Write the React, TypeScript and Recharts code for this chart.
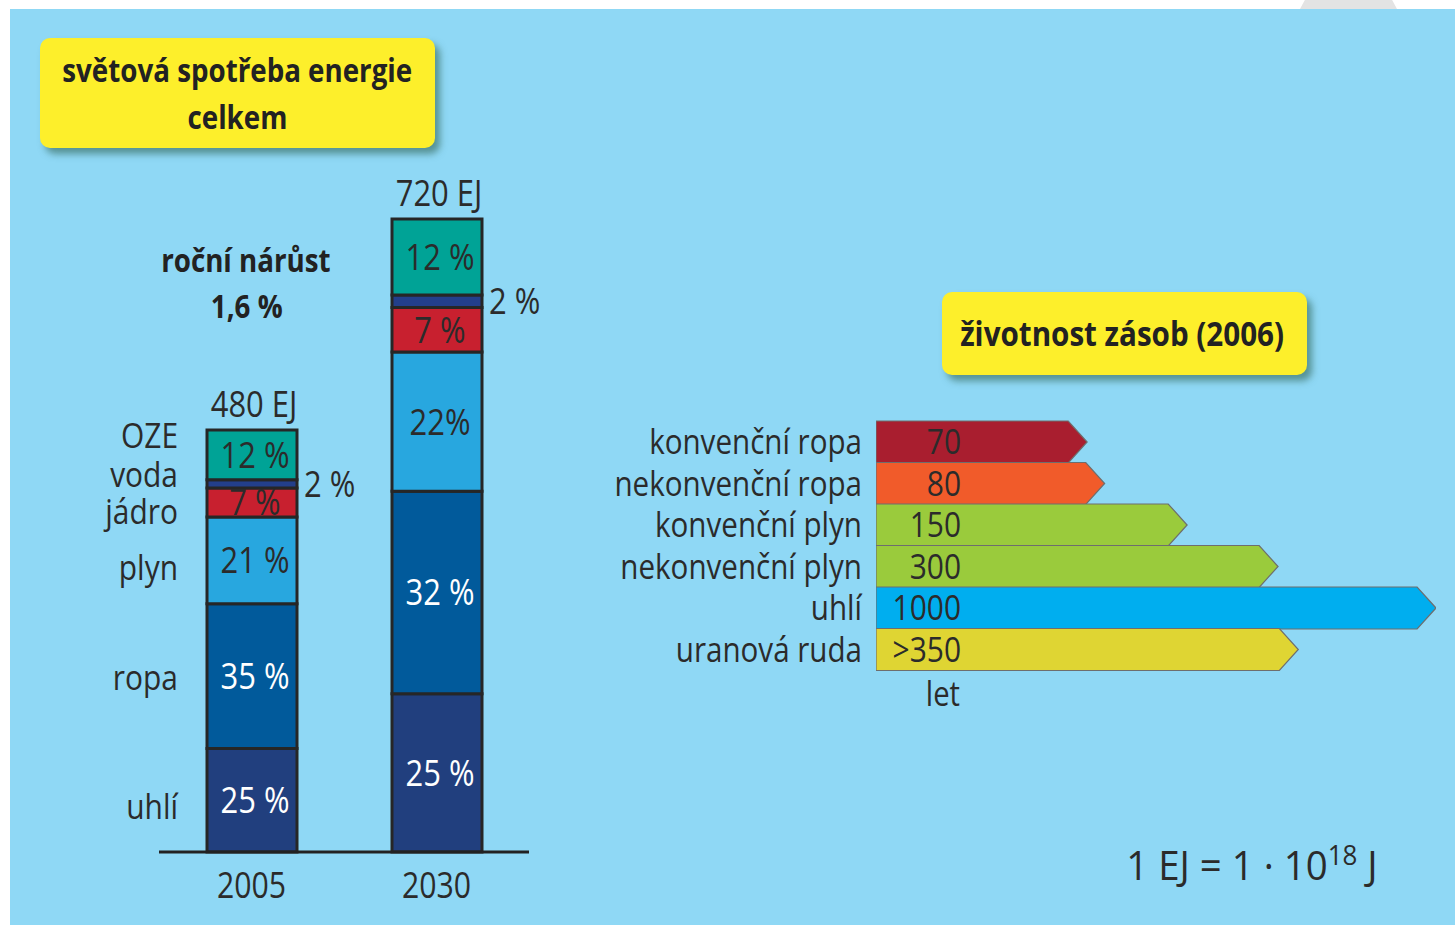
import { BarChart, Bar, XAxis, YAxis, LabelList, Cell } from "recharts";

// světová spotřeba energie (EJ, podíly v %)
const years = ["2005", "2030"];
const totalEJ = [480, 720];
const uhli = [25, 25];
const ropa = [35, 32];
const plyn = [21, 22];
const jadro = [7, 7];
const voda = [2, 2];
const oze = [12, 12];
const plynText = ["21 %", "22%"];

// životnost zásob (2006), roky
const reserveNames = [
  "konvenční ropa",
  "nekonvenční ropa",
  "konvenční plyn",
  "nekonvenční plyn",
  "uhlí",
  "uranová ruda",
];
const reserveYears = [70, 80, 150, 300, 1000, 350];
const reserveText = ["70", "80", "150", "300", "1000", ">350"];

const FONT = "'Open Sans', 'Noto Sans', sans-serif";
const SX = 0.86; // condensed look
const INK = "#2b2b2b";
const BG = "#8fd8f5";

const SERIES = [
  { key: "uhli", name: "uhlí", fill: "#213f7e", ink: "#ffffff", nameDy: 6 },
  { key: "ropa", name: "ropa", fill: "#015a9b", ink: "#ffffff", nameDy: 2 },
  { key: "plyn", name: "plyn", fill: "#28a7df", ink: INK, nameDy: 7 },
  { key: "jadro", name: "jádro", fill: "#c8202f", ink: INK, nameDy: 9 },
  { key: "voda", name: "voda", fill: "#233f8b", ink: INK, nameDy: -9 },
  { key: "oze", name: "OZE", fill: "#00a396", ink: INK, nameDy: -19 },
];

const shares: Record<string, number[]> = { uhli, ropa, plyn, jadro, voda, oze };

const energyRows = years.map((year, i) => {
  const sum = SERIES.reduce((s, k) => s + shares[k.key][i], 0);
  const row: any = { year, totalText: `${totalEJ[i]} EJ` };
  SERIES.forEach((s) => {
    row[s.key] = (totalEJ[i] * shares[s.key][i]) / sum;
    row[s.key + "Text"] = `${shares[s.key][i]} %`;
  });
  row.plynText = plynText[i];
  return row;
});

const reserveRows = reserveNames.map((name, i) => ({
  name,
  years: reserveYears[i],
  text: reserveText[i],
}));

const ARROW_FILLS = ["#a91e2f", "#f15b2a", "#9acb3c", "#9acb3c", "#00aeef", "#dfd533"];

// narrow svg text: scaled horizontally around its anchor point
function NText(props: any) {
  const { x, y, anchor = "middle", size = 34, fill = INK, weight = 400, sx = SX, children } = props;
  return (
    <g transform={`translate(${x},${y}) scale(${sx},1)`}>
      <text x={0} y={0} dy="0.36em" textAnchor={anchor} fontSize={size} fill={fill} fontWeight={weight} fontFamily={FONT}>
        {children}
      </text>
    </g>
  );
}

// narrow html line centred on (cx, cy)
function HLine(props: any) {
  const { cx, cy, size = 34, weight = 400, sx = SX, lh = 46, color = INK, children } = props;
  return (
    <div
      style={{
        position: "absolute",
        left: cx - 500,
        top: cy - lh / 2,
        width: 1000,
        height: lh,
        lineHeight: `${lh}px`,
        textAlign: "center",
        fontSize: size,
        fontWeight: weight,
        color,
        whiteSpace: "nowrap",
      }}
    >
      <span style={{ display: "inline-block", transform: `scaleX(${sx})` }}>{children}</span>
    </div>
  );
}

const box = (p: any) => {
  const vb = p.viewBox ?? p;
  return { x: vb.x, y: Math.min(vb.y, vb.y + vb.height), w: vb.width, h: Math.abs(vb.height) };
};

const insideLabel = (color: string) => (p: any) => {
  const b = box(p);
  return (
    <NText x={b.x + b.w / 2 + 3} y={b.y + b.h / 2} fill={color} size={36}>
      {p.value}
    </NText>
  );
};

const nameLabel = (name: string, dy: number) => (p: any) => {
  if (p.index !== 0) return null;
  const b = box(p);
  return (
    <NText x={b.x - 29} y={b.y + b.h / 2 + dy} anchor="end" size={34} sx={0.88}>
      {name}
    </NText>
  );
};

const sideLabel = (p: any) => {
  const b = box(p);
  return (
    <NText x={b.x + b.w + 7} y={b.y + b.h / 2} anchor="start" size={36}>
      {p.value}
    </NText>
  );
};

const totalLabel = (p: any) => {
  const b = box(p);
  return (
    <NText x={b.x + b.w / 2 + 2} y={b.y - 26} size={36}>
      {p.value}
    </NText>
  );
};

const yearTick = (p: any) => (
  <NText x={p.x} y={p.y + 13} size={36} sx={0.84}>
    {p.payload.value}
  </NText>
);

function EnergyBars() {
  return (
    <BarChart width={600} height={927} data={energyRows} margin={{ top: 219, right: 71, bottom: 25, left: 159 }}>
      <XAxis
        dataKey="year"
        height={50}
        axisLine={{ stroke: "#222", strokeWidth: 3 }}
        tickLine={false}
        tickMargin={14}
        tick={yearTick}
      />
      <YAxis hide domain={[0, 720]} />
      {SERIES.map((s) => (
        <Bar key={s.key} dataKey={s.key} stackId="a" barSize={90} fill={s.fill} stroke="#262626" strokeWidth={3} isAnimationActive={false}>
          {s.key === "voda" ? (
            <LabelList dataKey="vodaText" content={sideLabel} />
          ) : (
            <LabelList dataKey={s.key + "Text"} content={insideLabel(s.ink)} />
          )}
          <LabelList dataKey={s.key} content={nameLabel(s.name, s.nameDy)} />
          {s.key === "oze" && <LabelList dataKey="totalText" content={totalLabel} />}
        </Bar>
      ))}
    </BarChart>
  );
}

const arrowShape = (p: any) => {
  const { x, y, width, height, fill } = p;
  const t = Math.min(height * 0.45, width);
  const d = `M${x},${y} H${x + width - t} L${x + width},${y + height / 2} L${x + width - t},${y + height} H${x} Z`;
  return <path d={d} fill={fill} stroke="#6e6e6e" strokeWidth={1.2} />;
};

const valueLabel = (p: any) => {
  const b = box(p);
  return (
    <NText x={b.x + 85} y={b.y + b.h / 2} anchor="end" size={34} sx={0.88}>
      {p.value}
    </NText>
  );
};

const reserveTick = (p: any) => (
  <NText x={p.x + 2} y={p.y} anchor="end" size={34} sx={0.87}>
    {p.payload.value}
  </NText>
);

function ReserveArrows() {
  return (
    <BarChart
      width={855}
      height={927}
      data={reserveRows}
      layout="vertical"
      margin={{ top: 421, right: 19, bottom: 257, left: 0 }}
      barCategoryGap={0}
    >
      <XAxis type="number" scale="log" domain={[14, 1000]} allowDataOverflow hide />
      <YAxis
        type="category"
        dataKey="name"
        width={276}
        axisLine={false}
        tickLine={false}
        tickMargin={10}
        interval={0}
        tick={reserveTick}
      />
      <Bar dataKey="years" shape={arrowShape} isAnimationActive={false}>
        {reserveRows.map((r, i) => (
          <Cell key={r.name} fill={ARROW_FILLS[i]} />
        ))}
        <LabelList dataKey="text" content={valueLabel} />
      </Bar>
    </BarChart>
  );
}

const yellowBox = {
  position: "absolute" as const,
  background: "#fdef2b",
  borderRadius: 10,
  boxShadow: "5px 6px 7px rgba(40, 90, 70, 0.55)",
};

export default function App() {
  return (
    <div style={{ position: "absolute", left: 0, top: 0, width: 1455, height: 927, background: "#fff", overflow: "hidden", fontFamily: FONT }}>
      <div style={{ position: "absolute", left: 10, top: 9, width: 1445, height: 916, background: BG }} />
      <div
        style={{
          position: "absolute",
          left: 1300,
          top: 0,
          width: 97,
          height: 9,
          background: "#e3e3e3",
          clipPath: "polygon(5% 0, 95% 0, 100% 100%, 0 100%)",
        }}
      />
      <div style={{ position: "absolute", left: 0, top: 0 }}>
        <EnergyBars />
      </div>
      <div style={{ position: "absolute", left: 600, top: 0 }}>
        <ReserveArrows />
      </div>

      <div style={{ ...yellowBox, left: 40, top: 38, width: 395, height: 110 }} />
      <HLine cx={237.5} cy={70} size={33} weight={700} sx={0.84} color="#222">
        světová spotřeba energie
      </HLine>
      <HLine cx={237.5} cy={117} size={33} weight={700} sx={0.84} color="#222">
        celkem
      </HLine>

      <div style={{ ...yellowBox, left: 942, top: 292, width: 365, height: 83 }} />
      <HLine cx={1122.5} cy={333} size={34} weight={700} sx={0.87} color="#222">
        životnost zásob (2006)
      </HLine>

      <HLine cx={246} cy={260} size={33} weight={700} sx={0.84} color="#222">
        roční nárůst
      </HLine>
      <HLine cx={246.5} cy={306} size={33} weight={700} sx={0.84} color="#222">
        1,6 %
      </HLine>

      <HLine cx={943} cy={693} size={34}>
        let
      </HLine>

      <HLine cx={1252} cy={865} size={40} sx={0.96} lh={50}>
        1 EJ = 1 · 10<sup style={{ fontSize: 27, verticalAlign: "15px", lineHeight: 0 }}>18</sup> J
      </HLine>
    </div>
  );
}
